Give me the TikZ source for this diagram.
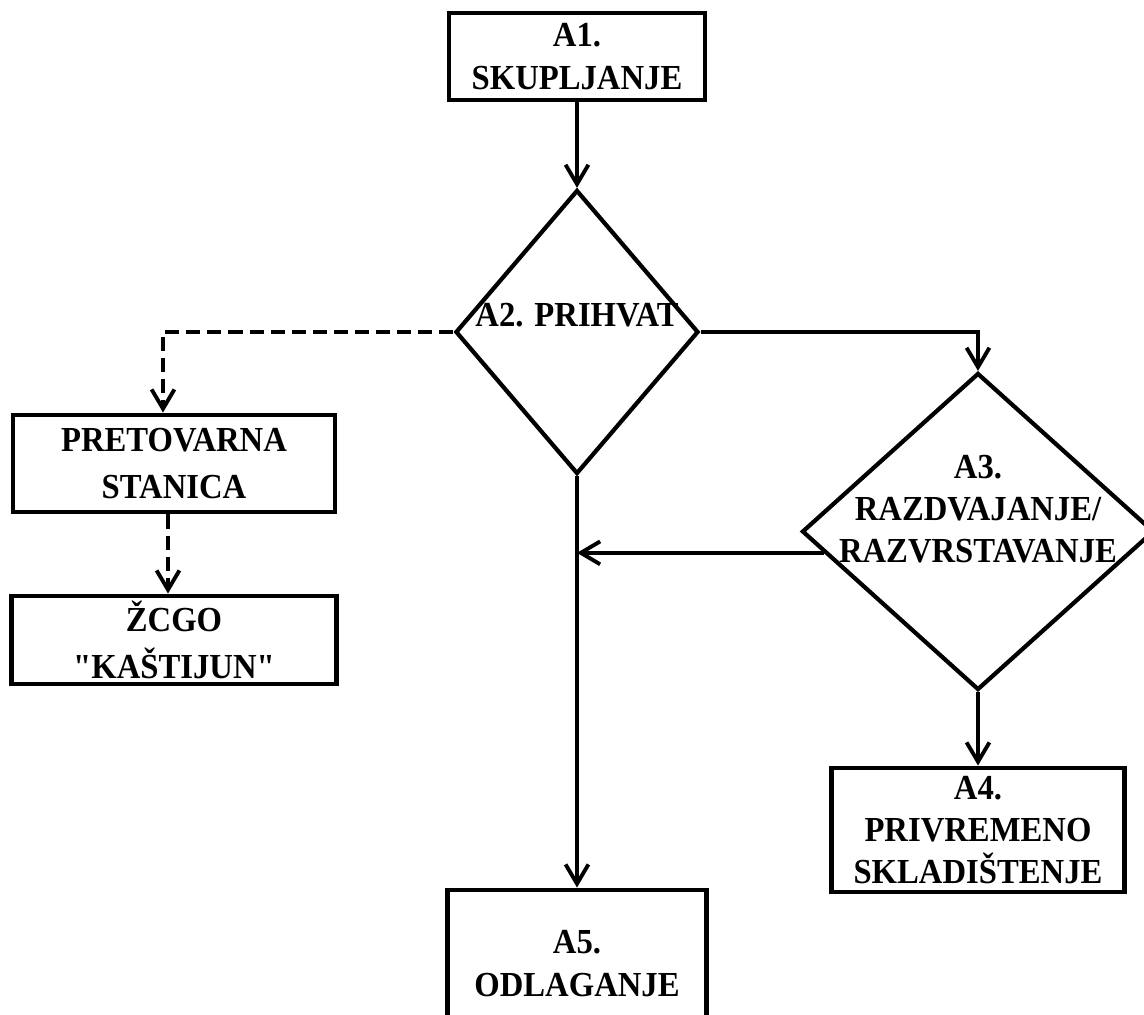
\documentclass[tikz,border=0pt]{standalone}
\usepackage{fontspec}
\setmainfont[FakeStretch=0.93, Ligatures=TeXOff]{Liberation Serif}
\usetikzlibrary{shapes.geometric,arrows.meta,calc}

\begin{document}
\begin{tikzpicture}[
        font=\bfseries\fontsize{20}{24}\selectfont,
        block/.style={rectangle, draw, line width=2.8pt, align=center, inner sep=0pt},
        decision/.style={diamond, draw, line width=2.4pt, inner sep=0pt},
        arrow/.style={-{Straight Barb[length=11pt,width=13pt]}, line width=2.2pt},
        dasharrow/.style={arrow, dash pattern=on 8pt off 4pt}
    ]
        \clip (0,0) rectangle (22.88,-20.3);

        % Blocks
        \node[block, minimum width=5.12cm, minimum height=1.74cm] (a1) at (11.54,-1.13) {A1.\\SKUPLJANJE};
        \node[decision, minimum width=4.86cm, minimum height=5.68cm,
              label={[name=a2text, yshift=0.34cm]center:A2. PRIHVAT}] (a2) at (11.54,-6.64) {};
        \node[block, minimum width=6.44cm, minimum height=1.94cm, font=\bfseries\fontsize{20}{27}\selectfont] (pret) at (3.48,-9.27) {PRETOVARNA\\STANICA};
        \node[block, minimum width=6.5cm, minimum height=1.76cm, font=\bfseries\fontsize{20}{27}\selectfont] (zcgo) at (3.48,-12.8) {ŽCGO\\"KAŠTIJUN"};
        \node[decision, minimum width=7.04cm, minimum height=6.34cm,
              label={[name=a3text, align=center, yshift=0.45cm]center:A3.\\RAZDVAJANJE/\\RAZVRSTAVANJE}] (a3) at (19.56,-10.63) {};
        \node[block, minimum width=5.86cm, minimum height=2.48cm] (a4) at (19.56,-16.6) {A4.\\PRIVREMENO\\SKLADIŠTENJE};
        \node[block, minimum width=5.18cm, minimum height=2.94cm] (a5) at (11.54,-19.27) {A5.\\ODLAGANJE};

        % Arrows
        \coordinate (a3out) at ($(a3.west)!0.133!(a3.south)$);
        \draw[arrow] (a1.south) -- (a2.north);
        \draw[arrow] (a2.east) -| (a3.north);
        \draw[arrow] (a2.south) -- (a5.north);
        \draw[arrow] (a3out) -- (a3out -| a2.south);
        \draw[arrow] (a3.south) -- (a4.north);
        \draw[dasharrow] (a2.west) -| ([xshift=-0.22cm]pret.north);
        \draw[dasharrow] ([xshift=-0.12cm]pret.south) -- ([xshift=-0.12cm]zcgo.north);

    \end{tikzpicture}
\end{document}
